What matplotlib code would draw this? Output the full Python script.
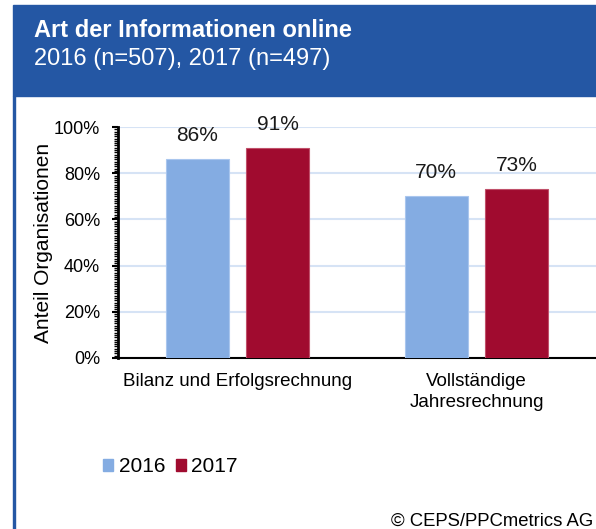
import numpy as np
import matplotlib.pyplot as plt
from matplotlib.patches import Rectangle, Patch
from matplotlib.ticker import MultipleLocator

plt.rcParams['font.family'] = ['Liberation Sans', 'DejaVu Sans']

categories = ['Bilanz und Erfolgsrechnung', 'Vollständige\nJahresrechnung']
years = ['2016', '2017']
values_2016 = [86, 70]
values_2017 = [91, 73]
colors = ['#84ACE2', '#A00B2F']

title = 'Art der Informationen online'
subtitle = '2016 (n=507), 2017 (n=497)'
source = '© CEPS/PPCmetrics AG'

fig = plt.figure(figsize=(5.96, 5.29), dpi=100)

# blue header band and left border
header_blue = '#2457A4'
fig.patches.append(Rectangle((13/596, 1 - 96/529), 1, 91/529,
                             transform=fig.transFigure, color=header_blue, zorder=0))
fig.patches.append(Rectangle((13/596, 0), 2/596, 1 - 96/529,
                             transform=fig.transFigure, color=header_blue, zorder=0))
fig.text(34/596, 1 - 37/529, title, color='white', fontsize=17,
         fontweight='bold', va='baseline')
fig.text(34/596, 1 - 65/529, subtitle, color='white', fontsize=17, va='baseline')

ax = fig.add_axes([118/596, 1 - 358/529, 478/596, 231/529])

x = np.arange(len(categories))
w = 0.263
off = 0.168
bars1 = ax.bar(x - off, values_2016, w, color=colors[0], edgecolor='#A9C6EE',
               linewidth=0.8, zorder=3)
bars2 = ax.bar(x + off, values_2017, w, color=colors[1], edgecolor='#C0506A',
               linewidth=0.8, zorder=3)

for bars, vals in [(bars1, values_2016), (bars2, values_2017)]:
    for b, v in zip(bars, vals):
        ax.annotate(f'{v}%', (b.get_x() + b.get_width() / 2, v),
                    xytext=(0, 17), textcoords='offset points',
                    ha='center', va='center', fontsize=15, color='#1a1a1a')

ax.set_xlim(-0.5, 1.5)
ax.set_ylim(0, 100)
ax.set_yticks(range(0, 101, 20))
ax.set_yticklabels([f'{t}%' for t in range(0, 101, 20)], fontsize=13)
ax.yaxis.set_minor_locator(MultipleLocator(1))
ax.tick_params(axis='y', which='major', direction='out', length=4, width=1.5, pad=9)
ax.tick_params(axis='y', which='minor', direction='out', length=3, width=1)
ax.set_xticks(x)
ax.set_xticklabels(categories, fontsize=13.5, linespacing=1.25)
ax.tick_params(axis='x', length=0, pad=11)

ax.grid(axis='y', color='#D6E3F5', linewidth=1.5, zorder=0)
ax.set_axisbelow(True)
for s in ['top', 'right']:
    ax.spines[s].set_visible(False)
ax.spines['left'].set_linewidth(2)
ax.spines['bottom'].set_linewidth(1.5)

ax.set_ylabel('Anteil Organisationen', fontsize=15)
ax.yaxis.set_label_coords(-0.135, 0.5)

handles = [Patch(color=c) for c in colors]
fig.legend(handles, years, loc='center left', bbox_to_anchor=(103/596, 1 - 467/529),
           ncol=2, frameon=False, fontsize=15, handlelength=0.5, handleheight=0.5,
           handletextpad=0.25, columnspacing=0.5, borderpad=0, borderaxespad=0)

fig.text(593/596, 1 - 526/529, source, ha='right', va='baseline', fontsize=13.3)

fig.savefig('out.png', dpi=100)
